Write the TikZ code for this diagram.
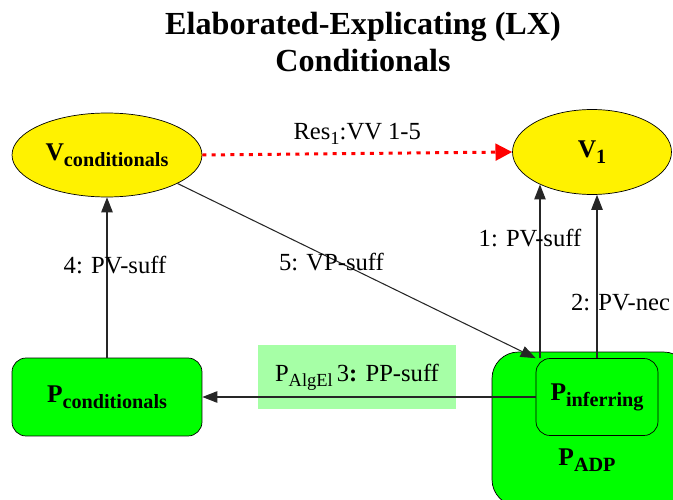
\documentclass[tikz,border=0pt]{standalone}
\usepackage{fontspec}
\setmainfont{Liberation Serif}
\usetikzlibrary{calc}
\usetikzlibrary{arrows.meta}
\usetikzlibrary{shapes.geometric}

\newcommand{\lowsub}[1]{\raisebox{-3.5pt}{\fontsize{11.5}{12}\selectfont #1}}
\newcommand{\edgesub}[1]{\raisebox{-3pt}{\fontsize{10.5}{11}\selectfont #1}}

\tikzset{
  vnode/.style={ellipse, draw, fill=yellow, inner sep=0pt, font=\fontsize{14.5}{16}\selectfont\bfseries},
  pnode/.style={rectangle, rounded corners=8pt, draw, fill=green, inner sep=0pt, font=\fontsize{14.5}{16}\selectfont\bfseries},
  edgelbl/.style={font=\fontsize{14}{16}\selectfont, inner sep=1pt},
  arr/.style={draw=black!85, line width=.6pt, -{Triangle[length=8.5pt,width=6.5pt]}},
}

\begin{document}
\begin{tikzpicture}[x=0.02cm,y=-0.02cm]
\useasboundingbox (0,0) rectangle (673,500);
\clip (0,0) rectangle (673,500);

% title
\node (title) [font=\fontsize{18.3}{20.5}\selectfont\bfseries, align=center] at (363,42) {Elaborated-Explicating (LX)\\Conditionals};

% nodes
\node (vcond) [vnode, minimum width=3.8cm, minimum height=1.68cm] at (107,155) {V\lowsub{conditionals}};
\node (vone) [vnode, minimum width=3.18cm, minimum height=1.7cm] at (592,152) {V\lowsub{1}};
\node (pcond) [pnode, minimum width=3.8cm, minimum height=1.56cm] at (107,397) {P\lowsub{conditionals}};
\node (padp) [pnode, rounded corners=15pt, minimum width=3.96cm, minimum height=3.08cm] at (591,429) {};
\node (padplbl) [font=\fontsize{14.5}{16}\selectfont\bfseries] at (587,460) {P\lowsub{ADP}};
\node (pinf) [pnode, minimum width=2.44cm, minimum height=1.54cm] at (597,397) {P\lowsub{inferring}};

% edges
\draw[red, line width=1.7pt, dash pattern=on 2.3pt off 3pt, -{Triangle[length=9.5pt,width=9.5pt]}] (vcond.east) -- (vone.west)
  node (lblres) [edgelbl, midway, above=3pt, text=black] {Res\edgesub{1}:VV 1-5};

\draw[arr] (pinf.north -| vone.212) -- (vone.212)
  node (lblone) [edgelbl, pos=.69, xshift=-0.2cm] {1: PV-suff};
\draw[arr] (pinf.north) -- (pinf.north |- vone.south)
  node (lbltwo) [edgelbl, pos=.34, xshift=0.47cm] {2: PV-nec};
\draw[arr] (pcond.north) -- (vcond.south)
  node (lblfour) [edgelbl, pos=.58, xshift=0.16cm] {4: PV-suff};
\draw[arr] (vcond.-22) -- (pinf.north west)
  node (lblfive) [edgelbl, pos=.43, yshift=-0.07cm] {5: VP-suff};

\node (lblthree) [edgelbl, fill=green!35, minimum width=3.98cm, minimum height=1.3cm] at (357,377) {P\edgesub{AlgEl}\,3\textbf{:} PP-suff};
\draw[arr] (pinf.west) -- (pcond.east);

\end{tikzpicture}
\end{document}
